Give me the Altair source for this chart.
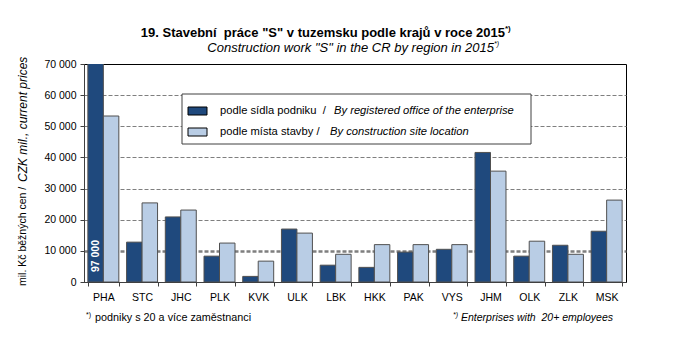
import altair as alt
import pandas as pd

regions = ["PHA", "STC", "JHC", "PLK", "KVK", "ULK", "LBK", "HKK", "PAK", "VYS", "JHM", "OLK", "ZLK", "MSK"]
by_office = [97000, 12800, 20900, 8300, 1800, 17000, 5400, 4700, 9600, 10500, 41600, 8300, 11800, 16300]
by_site = [53300, 25400, 23100, 12500, 6700, 15700, 8900, 12000, 12000, 12000, 35600, 13100, 8900, 26300]
series_cz = ["podle sídla podniku\u00a0\u00a0/", "podle místa stavby /"]
series_en = ["By registered office of the enterprise", "By construction site location"]
colors = ["#1f497d", "#b9cde5"]
y_ticks = [0, 10000, 20000, 30000, 40000, 50000, 60000, 70000]

title_cz = '19. Stavební\u00a0\u00a0práce "S" v tuzemsku podle krajů v roce 2015'
title_en = 'Construction work "S" in the CR by region in 2015'
ytitle_cz = "mil. Kč běžných cen /"
ytitle_en = "CZK mil., current prices"
note_cz = "podniky s 20 a více zaměstnanci"
note_en = "Enterprises with\u00a0\u00a020+ employees"

rows = []
for r, a, b in zip(regions, by_office, by_site):
    rows.append({"region": r, "series": series_cz[0], "value": a})
    rows.append({"region": r, "series": series_cz[1], "value": b})
df = pd.DataFrame(rows)

W, H = 542, 218
FONT = "Liberation Sans"

x_enc = alt.X(
    "region:N", sort=regions,
    scale=alt.Scale(paddingInner=0.2, paddingOuter=0.1),
    axis=alt.Axis(title=None, labelAngle=0, tickBand="extent", tickSize=4,
                  labelPadding=6, labelFontSize=10.5, labelFont=FONT, labelColor="black",
                  domainColor="#404040", tickColor="#404040", grid=False),
)
y_enc = alt.Y(
    "value:Q",
    scale=alt.Scale(domain=[0, 70000], nice=False),
    axis=alt.Axis(
        title=None, values=y_ticks, grid=True, gridColor="#7f7f7f", gridDash=[4, 2],
        gridWidth={"condition": {"test": "datum.value === 10000", "value": 2.5}, "value": 1},
        gridOpacity={"condition": {"test": "datum.value === 0 || datum.value === 70000", "value": 0}, "value": 1},
        labelExpr="replace(format(datum.value, ','), ',', ' ')",
        tickSize=4, labelPadding=4, labelFontSize=10.5, labelFont=FONT, labelColor="black",
        domainColor="#404040", tickColor="#404040",
    ),
)

bars = alt.Chart(df).mark_bar(stroke="#505050", strokeWidth=1, clip=True).encode(
    x=x_enc,
    xOffset=alt.XOffset("series:N", sort=series_cz, scale=alt.Scale(paddingInner=0)),
    y=y_enc,
    color=alt.Color("series:N", sort=series_cz,
                    scale=alt.Scale(domain=series_cz, range=colors), legend=None),
)

over = alt.Chart(df).transform_filter(
    "datum.value > 70000"
).transform_calculate(
    lab="replace(format(datum.value, ','), ',', ' ')"
).mark_text(angle=270, color="white", fontWeight="bold", fontSize=10.5, font=FONT,
            align="center", baseline="middle").encode(
    x=alt.X("region:N", sort=regions),
    xOffset=alt.XOffset("series:N", sort=series_cz),
    y=alt.value(192),
    text="lab:N",
)


def txt(s, x, y, size=11, weight="normal", style="normal", align="left", angle=0, baseline="middle"):
    return alt.Chart(pd.DataFrame({"t": [s]})).mark_text(
        font=FONT, fontSize=size, fontWeight=weight, fontStyle=style, align=align,
        angle=angle, baseline=baseline, color="black",
    ).encode(x=alt.value(x), y=alt.value(y), text="t:N")


L, T = 84, 64
layers = [bars, over]

# titles
layers.append(txt(title_cz, 505 - L, 33 - T, size=13, weight="bold", align="right"))
layers.append(txt("*)", 505 - L, 29 - T, size=8, weight="bold", align="left"))
layers.append(txt(title_en, 494 - L, 48 - T, size=13, style="italic", align="right"))
layers.append(txt("*)", 494 - L, 44 - T, size=7, style="italic", align="left"))

# y title
layers.append(txt(ytitle_cz, 23 - L, 286 - T, size=10.5, angle=270, align="left"))
layers.append(txt(ytitle_en, 23 - L, 182 - T, size=12, style="italic", angle=270, align="left"))

# footnotes
layers.append(txt("*)", 86 - L, 315 - T, size=7, align="left"))
layers.append(txt(note_cz, 95 - L, 318 - T, size=10.8, align="left"))
layers.append(txt(note_en, 613 - L, 318 - T, size=10.5, style="italic", align="right"))
layers.append(txt("*)", 458 - L, 315 - T, size=7, style="italic", align="right"))

# legend
leg_box = alt.Chart(pd.DataFrame({"t": [0]})).mark_rect(
    fill="white", stroke="#404040", strokeWidth=1
).encode(x=alt.value(182 - L), x2=alt.value(531 - L), y=alt.value(94 - T), y2=alt.value(144 - T))
layers.append(leg_box)
leg_rows = [111, 132]
for i in range(2):
    cy = leg_rows[i] - T
    sw = alt.Chart(pd.DataFrame({"s": [series_cz[i]]})).mark_rect(
        stroke="black", strokeWidth=1
    ).encode(
        x=alt.value(188 - L), x2=alt.value(207 - L), y=alt.value(cy - 4), y2=alt.value(cy + 4),
        color=alt.Color("s:N", scale=alt.Scale(domain=series_cz, range=colors), legend=None),
    )
    layers.append(sw)
    layers.append(txt(series_cz[i], 220 - L, cy, size=11.2))
    layers.append(txt(series_en[i], [334, 330][i] - L, cy, size=11.2, style="italic"))

chart = alt.layer(*layers).properties(
    width=W, height=H,
    autosize=alt.AutoSizeParams(type="none"),
    padding={"left": L - 8, "top": T - 8, "right": 40, "bottom": 60},
).configure_view(stroke="black", strokeWidth=1)

chart.save("out.html", embed_options={"renderer": "svg", "actions": False})
